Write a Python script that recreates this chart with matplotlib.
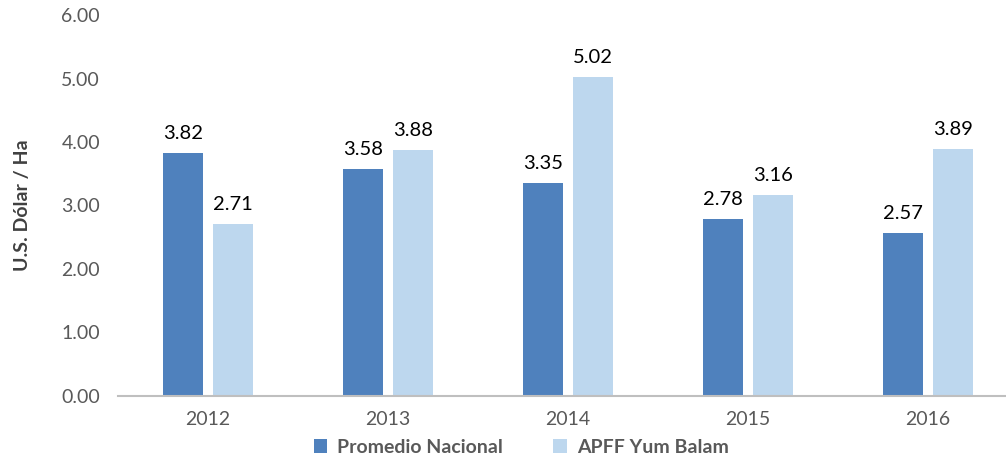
import matplotlib.pyplot as plt
import numpy as np

# Chart data
years = ["2012", "2013", "2014", "2015", "2016"]
promedio_nacional = [3.82, 3.58, 3.35, 2.78, 2.57]
apff_yum_balam = [2.71, 3.88, 5.02, 3.16, 3.89]
y_ticks = [0, 1, 2, 3, 4, 5, 6]

plt.rcParams["font.family"] = ["Lato", "DejaVu Sans"]

fig = plt.figure(figsize=(10.06, 4.59), dpi=100)
ax = fig.add_axes([0.1173, 0.1373, 0.8946, 0.830])

x = np.arange(len(years))
w = 0.222
off = 0.139
b1 = ax.bar(x - off, promedio_nacional, w, color="#4F81BD", label="Promedio Nacional")
b2 = ax.bar(x + off, apff_yum_balam, w, color="#BDD7EE", label="APFF Yum Balam")

for bars in (b1, b2):
    for rect in bars:
        h = rect.get_height()
        ax.annotate(f"{h:.2f}", (rect.get_x() + rect.get_width() / 2, h),
                    xytext=(0, 8), textcoords="offset points",
                    ha="center", va="bottom", fontsize=14.5, color="black")

ax.set_xlim(-0.5, len(years) - 0.5)
ax.set_ylim(0, 6)
ax.set_xticks(x)
ax.set_xticklabels(years)
ax.set_yticks(y_ticks)
ax.set_yticklabels([f"{v:.2f}" for v in y_ticks])
ax.tick_params(axis="both", length=0, labelsize=14, colors="#595959")
ax.tick_params(axis="y", pad=13)
ax.tick_params(axis="x", pad=11)

for s in ["top", "right", "left"]:
    ax.spines[s].set_visible(False)
ax.spines["bottom"].set_color("#BFBFBF")
ax.spines["bottom"].set_linewidth(1.5)

ax.set_ylabel("U.S. Dólar / Ha", fontsize=14, fontweight="bold", color="#404040", labelpad=22)

fig.legend(loc="center", bbox_to_anchor=(0.518, 0.025), ncol=2, frameon=False,
           prop={"weight": "bold", "size": 14}, labelcolor="#595959",
           handlelength=0.7, handleheight=0.7, columnspacing=2.6, handletextpad=0.5)

plt.savefig("out.png", dpi=100)
